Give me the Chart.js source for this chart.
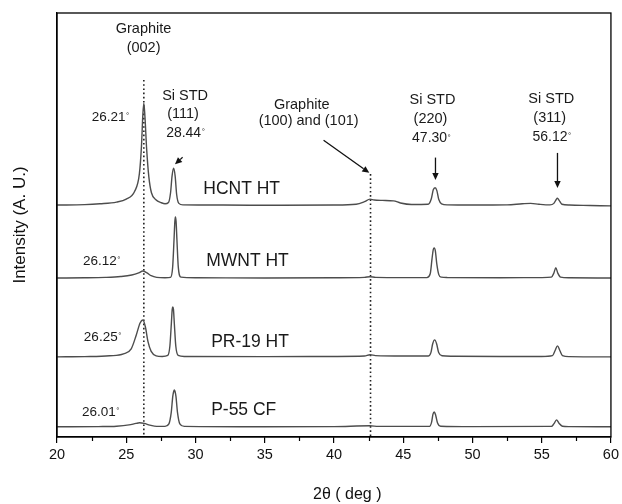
<!DOCTYPE html>
<html>
<head>
<meta charset="utf-8">
<script src="https://cdn.jsdelivr.net/npm/chart.js@4.4.1/dist/chart.umd.min.js"></script>
<style>
  html, body { margin: 0; padding: 0; background: #fff; }
  #wrap { width: 622px; height: 504px; position: relative; }
</style>
</head>
<body>
<div id="wrap"><canvas id="xrd"></canvas></div>
<script>
// 2theta (deg) vs intensity above each trace's own baseline (arb. units)
const hcnt = [[20,0.1],[22,0.2],[23.1,0.4],[24.3,0.8],[25.0,1.5],[25.6,3.3],[25.95,7.5],[26.1,14],[26.2,21.5],[26.27,24.1],[26.35,21],[26.47,13.5],[26.63,6.8],[26.82,3],[27.16,1.3],[27.5,0.7],[27.8,0.4],[28.05,0.7],[28.2,3],[28.31,7],[28.42,8.8],[28.53,7],[28.64,2.6],[28.8,0.5],[29.1,0.15],[32,0.1],[36,0.05],[40,0.1],[41.6,0.3],[42.2,0.9],[42.6,1.5],[42.9,1.3],[43.5,1.2],[44.3,1.1],[44.8,0.6],[45.6,0.25],[46.8,0.3],[47.03,1.6],[47.17,3.7],[47.3,4.2],[47.43,3.5],[47.57,1.4],[47.77,0.4],[48.2,0.15],[50,0.1],[52.5,0.15],[53.6,0.4],[54.2,0.5],[54.8,0.3],[55.6,0.15],[55.88,0.5],[56.03,1.3],[56.14,1.7],[56.26,1.2],[56.46,0.3],[57,0.1],[58.5,0],[60,-0.1]];
const mwnt = [[20,0],[22,0.05],[23.5,0.15],[24.6,0.35],[25.4,0.7],[25.9,1.2],[26.2,1.65],[26.5,1.2],[26.8,0.55],[27.2,0.15],[27.8,0.05],[28.2,0.15],[28.35,2.5],[28.45,9],[28.51,13.3],[28.55,14.4],[28.6,13.3],[28.66,9],[28.76,2.5],[28.95,0.2],[30,0.05],[35,0],[40,0.05],[42.2,0.15],[42.6,0.3],[43.0,0.15],[45,0.1],[46.7,0.1],[46.95,1.0],[47.08,4.5],[47.17,6.7],[47.24,7.1],[47.32,6.4],[47.43,3.2],[47.57,0.8],[47.75,0.2],[48.2,0.1],[52,0.05],[55,0.1],[55.7,0.2],[55.87,1.1],[56.02,2.4],[56.17,1.1],[56.36,0.2],[57,0.05],[60,0]];
const pr19 = [[20,0],[22,0.05],[23.8,0.25],[24.8,0.7],[25.36,1.9],[25.72,5.1],[26.0,8.0],[26.2,8.7],[26.38,7.1],[26.57,3.6],[26.8,1.3],[27.16,0.25],[27.6,0.1],[28.0,0.35],[28.15,2.5],[28.26,8],[28.32,11.2],[28.36,11.8],[28.41,11.2],[28.47,8],[28.58,2.5],[28.75,0.35],[29.2,0.1],[35,0.05],[40,0.1],[42.2,0.2],[42.6,0.5],[43,0.3],[45,0.2],[46.8,0.2],[47.0,1.0],[47.13,3.1],[47.27,4.0],[47.41,3.1],[47.56,1.0],[47.8,0.25],[48.5,0.15],[52,0.1],[55,0.1],[55.78,0.3],[55.97,1.5],[56.14,2.6],[56.31,1.5],[56.5,0.3],[57,0.05],[60,0]];
const p55 = [[20,0],[23,0.05],[24.3,0.15],[25.2,0.45],[25.7,0.8],[25.96,0.95],[26.3,0.8],[26.7,0.4],[27.2,0.1],[27.8,0.1],[28.08,0.7],[28.25,3.4],[28.36,7.2],[28.43,8.4],[28.47,8.7],[28.52,8.4],[28.59,7.2],[28.7,3.4],[28.87,0.7],[29.2,0.1],[35,0],[40,0.05],[42.6,0.25],[43.2,0.1],[46.9,0.1],[47.05,1.1],[47.15,3.0],[47.24,3.5],[47.34,2.8],[47.48,0.9],[47.7,0.15],[50,0.05],[55.7,0.1],[55.89,0.75],[56.07,1.65],[56.25,0.85],[56.5,0.15],[57,0.05],[60,0]];

const sampleNames = ['HCNT HT', 'MWNT HT', 'PR-19 HT', 'P-55 CF'];
const sampleOffsets = [54.6, 37.5, 18.9, 2.4];
const traces = [hcnt, mwnt, pr19, p55];

// reference lines: graphite (002) and (100)/(101)
const refTheta = [26.27, 42.64];
const refTop = [84.2, 62.0];

const xTicks = { min: 20, max: 60, step: 5 };
const minorTicks = [22.5, 27.5, 32.5, 37.5, 42.5, 47.5, 52.5, 57.5];

const FONT = '"Liberation Sans", Arial, sans-serif';

// text notes: [text, x, y, align, size, degree]
const notes = [
  ['Graphite', 26.25, 96.2, 'center', 14.5, false],
  ['(002)', 26.25, 91.7, 'center', 14.5, false],
  ['26.21', 22.51, 75.5, 'left', 13.5, true],
  ['Si STD', 29.25, 80.4, 'center', 14.5, false],
  ['(111)', 29.1, 76.1, 'center', 14.5, false],
  ['28.44', 27.88, 71.7, 'left', 14, true],
  ['Graphite', 37.67, 78.3, 'center', 14.5, false],
  ['(100) and (101)', 38.17, 74.5, 'center', 14.5, false],
  ['Si STD', 47.11, 79.4, 'center', 14.5, false],
  ['(220)', 46.97, 75.0, 'center', 14.5, false],
  ['47.30', 45.64, 70.4, 'left', 14, true],
  ['Si STD', 55.69, 79.7, 'center', 14.5, false],
  ['(311)', 55.58, 75.2, 'center', 14.5, false],
  ['56.12', 54.33, 70.8, 'left', 14, true],
  ['26.12', 21.87, 41.5, 'left', 13.5, true],
  ['26.25', 21.94, 23.6, 'left', 13.5, true],
  ['26.01', 21.8, 5.9, 'left', 13.5, true]
];
const nameX = [30.56, 30.77, 31.13, 31.13];
const nameY = [58.5, 41.5, 22.4, 6.4];

// arrows: tail x, tail y, tip x, tip y
const arrows = [
  [29.07, 65.97, 28.52, 64.3],
  [39.25, 70.0, 42.55, 62.3],
  [47.33, 65.9, 47.33, 60.6],
  [56.14, 67.0, 56.14, 58.7]
];

const datasets = traces.map((pts, i) => ({
  label: sampleNames[i],
  data: pts.map(p => ({ x: p[0], y: p[1] + sampleOffsets[i] })),
  borderColor: '#4d4d4d',
  borderWidth: 1.4,
  pointRadius: 0,
  cubicInterpolationMode: 'monotone',
  fill: false
}));
refTheta.forEach((t, i) => {
  datasets.push({
    label: 'ref' + i,
    data: [{ x: t, y: refTop[i] }, { x: t, y: 0 }],
    borderColor: '#222',
    borderWidth: 1.6,
    borderDash: [1.6, 2.6],
    pointRadius: 0
  });
});

const decorPlugin = {
  id: 'decor',
  afterDraw(c) {
    const ctx = c.ctx;
    const xs = c.scales.x, ys = c.scales.y;
    const a = c.chartArea;
    ctx.save();
    // frame
    ctx.strokeStyle = '#000';
    ctx.lineWidth = 1.3;
    ctx.strokeRect(a.left, a.top, a.right - a.left, a.bottom - a.top);
    // minor ticks
    ctx.lineWidth = 1.2;
    minorTicks.forEach(v => {
      const px = Math.round(xs.getPixelForValue(v)) + 0.5;
      ctx.beginPath();
      ctx.moveTo(px, a.bottom);
      ctx.lineTo(px, a.bottom + 4);
      ctx.stroke();
    });
    // text notes
    ctx.fillStyle = '#1a1a1a';
    ctx.textBaseline = 'middle';
    notes.forEach(n => {
      const [text, x, y, align, size, deg] = n;
      const px = xs.getPixelForValue(x), py = ys.getPixelForValue(y);
      ctx.font = size + 'px ' + FONT;
      ctx.textAlign = align;
      ctx.fillText(text, px, py);
      if (deg) {
        const w = ctx.measureText(text).width;
        const left = align === 'left' ? px : px - w / 2;
        ctx.font = '8px ' + FONT;
        ctx.textAlign = 'left';
        ctx.fillText('°', left + w + 0.5, py - 1);
      }
    });
    ctx.font = '17.5px ' + FONT;
    ctx.textAlign = 'left';
    sampleNames.forEach((s, i) => {
      ctx.fillText(s, xs.getPixelForValue(nameX[i]), ys.getPixelForValue(nameY[i]));
    });
    // arrows
    ctx.strokeStyle = '#111';
    ctx.fillStyle = '#111';
    ctx.lineWidth = 1.3;
    arrows.forEach(ar => {
      const x1 = xs.getPixelForValue(ar[0]), y1 = ys.getPixelForValue(ar[1]);
      const x2 = xs.getPixelForValue(ar[2]), y2 = ys.getPixelForValue(ar[3]);
      const ang = Math.atan2(y2 - y1, x2 - x1);
      const hl = 7, hw = 3.2;
      const bx = x2 - hl * Math.cos(ang), by = y2 - hl * Math.sin(ang);
      ctx.beginPath();
      ctx.moveTo(x1, y1);
      ctx.lineTo(bx, by);
      ctx.stroke();
      ctx.beginPath();
      ctx.moveTo(x2, y2);
      ctx.lineTo(bx + hw * Math.sin(ang), by - hw * Math.cos(ang));
      ctx.lineTo(bx - hw * Math.sin(ang), by + hw * Math.cos(ang));
      ctx.closePath();
      ctx.fill();
    });
    ctx.restore();
  }
};

new Chart(document.getElementById('xrd'), {
  type: 'line',
  data: { datasets: datasets },
  options: {
    responsive: true,
    maintainAspectRatio: false,
    animation: false,
    layout: { padding: { left: 8, top: 13, right: 8, bottom: 0 } },
    plugins: { legend: { display: false }, tooltip: { enabled: false } },
    scales: {
      x: {
        type: 'linear',
        min: xTicks.min,
        max: xTicks.max,
        afterFit: s => { s.height = 67; },
        ticks: { stepSize: xTicks.step, color: '#111', padding: 3, font: { family: FONT, size: 14.5 } },
        grid: { display: true, drawOnChartArea: false, drawTicks: true, tickLength: 6, color: '#000', lineWidth: 1.2 },
        border: { display: true, color: '#000', width: 1.3 },
        title: { display: true, text: '      2θ ( deg )', color: '#111', font: { family: FONT, size: 16 }, padding: { top: 0, bottom: 0 } }
      },
      y: {
        min: 0,
        max: 100,
        afterFit: s => { s.width = 49; },
        ticks: { display: false },
        grid: { display: false },
        border: { display: true, color: '#000', width: 1.3 },
        title: { display: true, text: 'Intensity (A. U.)', color: '#111', font: { family: FONT, size: 17 }, padding: { top: 2, bottom: 0 } }
      }
    }
  },
  plugins: [decorPlugin]
});
</script>
</body>
</html>
